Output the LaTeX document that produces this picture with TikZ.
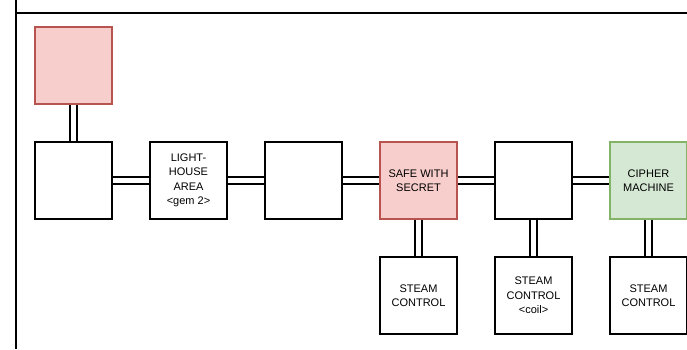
\documentclass[tikz,border=0pt]{standalone}
\usepackage{fontspec}
\setmainfont{Liberation Sans}
\definecolor{pinkfill}{HTML}{F8CECC}
\definecolor{pinkline}{HTML}{B85450}
\definecolor{greenfill}{HTML}{D5E8D4}
\definecolor{greenline}{HTML}{82B366}
\begin{document}
\begin{tikzpicture}[x=1pt,y=-1pt,
  room/.style={draw=black, line width=1.8pt, fill=white, minimum width=77pt, minimum height=77pt, inner sep=2pt, align=center, font=\fontsize{11}{14.5}\selectfont},
  redroom/.style={room, draw=pinkline, fill=pinkfill},
  greenroom/.style={room, draw=greenline, fill=greenfill},
  dbl/.style={draw=black, line width=1.9pt, double=white, double distance=5pt},
  frame/.style={draw=black, line width=1.8pt}]
\useasboundingbox (0,0) rectangle (687,349);
\coordinate (ftop) at (16,0);
\coordinate (fbot) at (16,349);
\coordinate (hl) at (16,13);
\coordinate (hr) at (690,13);
\draw[frame] (ftop) -- (fbot);
\draw[frame] (hl) -- (hr);
\node[redroom] (top) at (73.5,65.5) {};
\node[room] (b1) at (73.5,180.5) {};
\node[room] (b2) at (188.5,180.5) {LIGHT-\\HOUSE\\AREA\\<gem 2>};
\node[room] (b3) at (303.5,180.5) {};
\node[redroom] (b4) at (418.5,180.5) {SAFE WITH\\SECRET};
\node[room] (b5) at (533.5,180.5) {};
\node[greenroom] (b6) at (648.5,180.5) {CIPHER\\MACHINE};
\node[room] (s4) at (418.5,295.5) {STEAM\\CONTROL};
\node[room] (s5) at (533.5,295.5) {STEAM\\CONTROL\\<coil>};
\node[room] (s6) at (648.5,295.5) {STEAM\\CONTROL};
\draw[dbl] (top) -- (b1);
\draw[dbl] (b1) -- (b2);
\draw[dbl] (b2) -- (b3);
\draw[dbl] (b3) -- (b4);
\draw[dbl] (b4) -- (b5);
\draw[dbl] (b5) -- (b6);
\draw[dbl] (b4) -- (s4);
\draw[dbl] (b5) -- (s5);
\draw[dbl] (b6) -- (s6);
\end{tikzpicture}
\end{document}
